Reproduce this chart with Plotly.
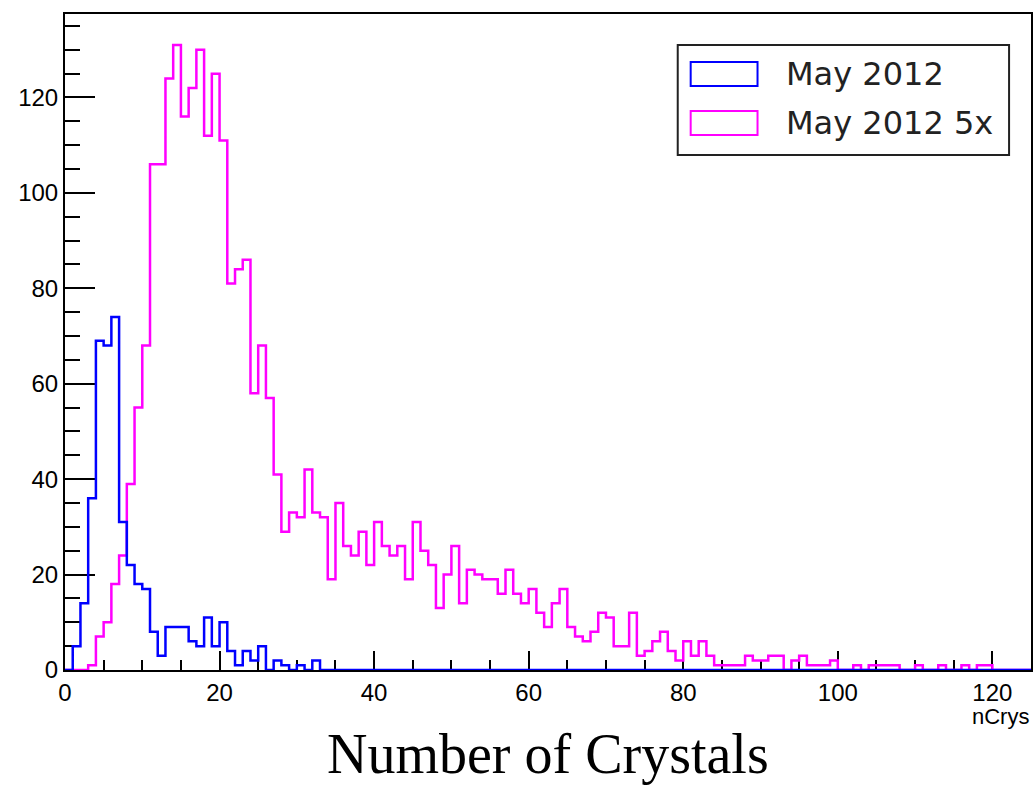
import plotly.graph_objects as go

# Histogram binning: 125 unit-width bins from 0 to 125
n_bins = 125
bin_edges = list(range(n_bins + 1))

# Counts per bin, "May 2012" sample (bins 0..32; the rest are empty)
may2012_counts = [0, 5, 14, 36, 69, 68, 74, 31, 22, 18, 17, 8, 3, 9, 9, 9, 6, 5,
                  11, 5, 10, 4, 1, 4, 2, 5, 0, 2, 1, 0, 1, 0, 2]

# Counts per bin, "May 2012 5x" sample (bins 0..119; the rest are empty)
may2012_5x_counts = [0, 0, 0, 1, 7, 10, 18, 24, 39, 55, 68, 106, 106, 124, 131, 116,
                     122, 130, 112, 125, 111, 81, 84, 86, 58, 68, 57, 41, 29, 33,
                     32, 42, 33, 32, 19, 35, 26, 24, 29, 22, 31, 26, 24, 26, 19,
                     31, 25, 22, 13, 20, 26, 14, 21, 20, 19, 19, 16, 21, 16, 14,
                     17, 12, 9, 14, 17, 9, 7, 6, 8, 12, 11, 5, 5, 12, 3, 4, 6, 8,
                     4, 2, 6, 3, 6, 3, 1, 1, 1, 1, 3, 2, 2, 3, 3, 0, 2, 3, 1, 1,
                     1, 2, 0, 0, 1, 0, 1, 1, 1, 1, 0, 0, 1, 0, 0, 1, 0, 0, 1, 0,
                     1, 1]

series_names = ["May 2012", "May 2012 5x"]
series_colors = ["#0000ff", "#ff00ff"]

x_tick_values = [0, 20, 40, 60, 80, 100, 120]
y_tick_values = [0, 20, 40, 60, 80, 100, 120]
x_title = "nCrys"
bottom_title = "Number of Crystals"


def padded(counts):
    full = list(counts) + [0] * (n_bins - len(counts))
    # repeat the last value so the step outline closes at the upper edge
    return full + [full[-1]]


fig = go.Figure()
# draw the 5x sample first so the May 2012 outline sits on top
for counts, name, color in [(may2012_5x_counts, series_names[1], series_colors[1]),
                            (may2012_counts, series_names[0], series_colors[0])]:
    fig.add_trace(go.Scatter(
        x=bin_edges, y=padded(counts), mode="lines", name=name,
        line=dict(color=color, width=2.5, shape="hv"),
        showlegend=False, hoverinfo="skip",
    ))

axis_font = dict(family="Liberation Sans, Arial, sans-serif", size=24, color="black")

fig.update_xaxes(
    range=[0, 125], tickvals=x_tick_values, ticks="inside", ticklen=19,
    tickwidth=1.5, tickcolor="black", showline=True, linecolor="black",
    linewidth=2, mirror=True, showgrid=False, zeroline=False,
    tickfont=axis_font, layer="below traces",
    minor=dict(dtick=5, ticks="inside", ticklen=10, tickwidth=1.5,
               tickcolor="black", showgrid=False),
)
fig.update_yaxes(
    range=[0, 137.5], tickvals=y_tick_values, ticks="inside", ticklen=30,
    tickwidth=1.5, tickcolor="black", showline=True, linecolor="black",
    linewidth=2, mirror=True, showgrid=False, zeroline=False,
    tickfont=axis_font, layer="below traces",
    minor=dict(dtick=5, ticks="inside", ticklen=15, tickwidth=1.5,
               tickcolor="black", showgrid=False),
)

# legend frame and entries (outlined boxes like a histogram legend)
shapes = [dict(type="rect", xref="paper", yref="paper",
               x0=0.6343, x1=0.9773, y0=0.785, y1=0.9527,
               line=dict(color="#222222", width=2), fillcolor="white", layer="above")]
annotations = []
legend_rows = [(0.8902, 0.9268), (0.8155, 0.8521)]
for (y0, y1), name, color in zip(legend_rows, series_names, series_colors):
    shapes.append(dict(type="rect", xref="paper", yref="paper",
                       x0=0.6477, x1=0.7169, y0=y0, y1=y1,
                       line=dict(color=color, width=2), fillcolor="white",
                       layer="above"))
    annotations.append(dict(xref="paper", yref="paper", x=0.7448, y=(y0 + y1) / 2,
                            xanchor="left", yanchor="middle", text=name,
                            showarrow=False,
                            font=dict(family="DejaVu Sans", size=32, color="#222222")))

annotations.append(dict(xref="paper", yref="paper", x=1.0, y=-0.071,
                        xanchor="right", yanchor="middle", text=x_title,
                        showarrow=False,
                        font=dict(family="Liberation Sans, Arial, sans-serif",
                                  size=22, color="black")))
annotations.append(dict(xref="paper", yref="paper", x=0.5, y=-0.128,
                        xanchor="center", yanchor="middle", text=bottom_title,
                        showarrow=False,
                        font=dict(family="Liberation Serif, Times New Roman, serif",
                                  size=56, color="black")))

fig.update_layout(
    width=1034, height=785,
    margin=dict(l=65, r=1, t=14, b=115),
    paper_bgcolor="white", plot_bgcolor="white",
    shapes=shapes, annotations=annotations,
    showlegend=False,
)

fig.write_html("out.html")
